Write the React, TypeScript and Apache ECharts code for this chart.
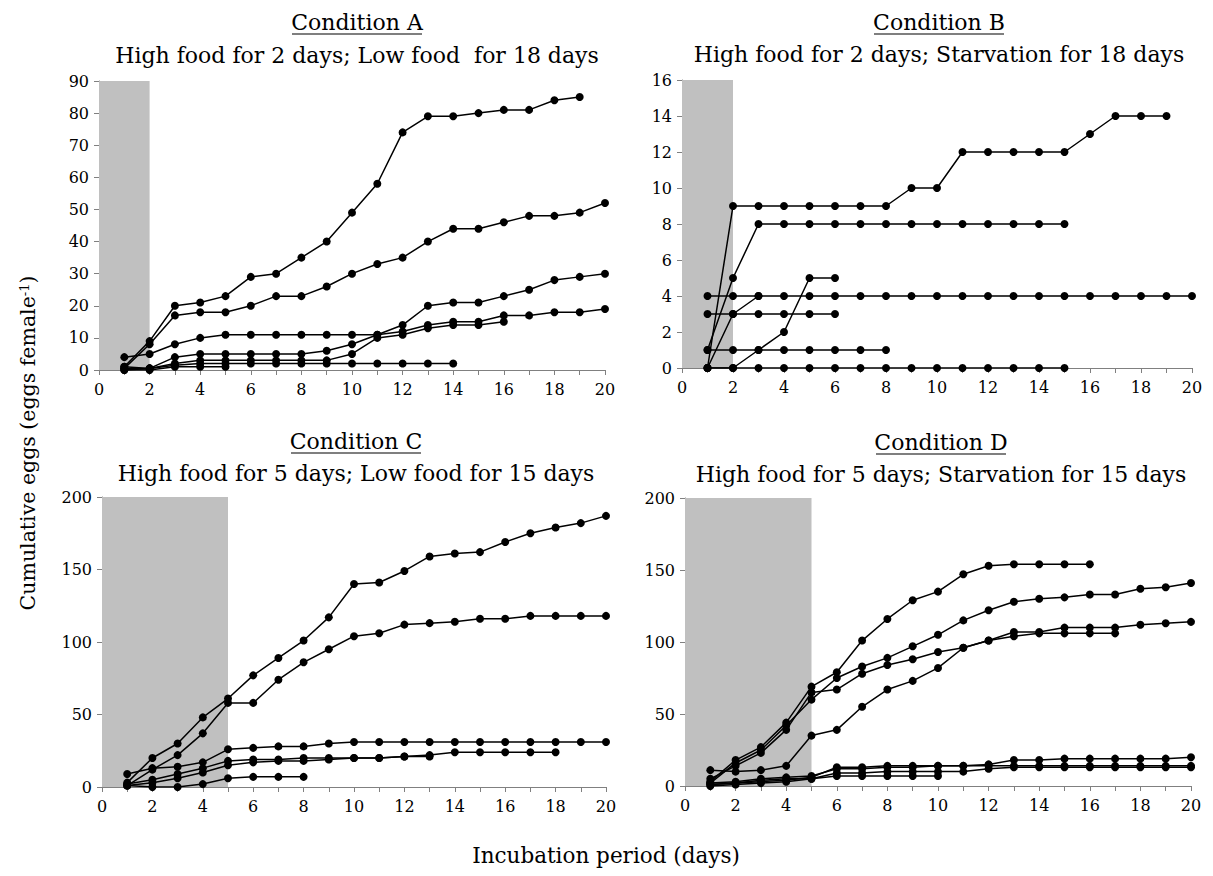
import React, { useEffect, useRef } from "react";
import * as echarts from "echarts";

const DAYS = [1, 2, 3, 4, 5, 6, 7, 8, 9, 10, 11, 12, 13, 14, 15, 16, 17, 18, 19, 20];
const X_TICK_LABELS = ["0", "2", "4", "6", "8", "10", "12", "14", "16", "18", "20"];

// Condition A (high food 2 d; low food 18 d)
const condA1 = [1, 9, 20, 21, 23, 29, 30, 35, 40, 49, 58, 74, 79, 79, 80, 81, 81, 84, 85];
const condA2 = [0.5, 8, 17, 18, 18, 20, 23, 23, 26, 30, 33, 35, 40, 44, 44, 46, 48, 48, 49, 52];
const condA3 = [4, 5, 8, 10, 11, 11, 11, 11, 11, 11, 11, 14, 20, 21, 21, 23, 25, 28, 29, 30];
const condA4 = [0.5, 0.5, 4, 5, 5, 5, 5, 5, 6, 8, 11, 12, 14, 15, 15, 17, 17, 18, 18, 19];
const condA5 = [1, 0.5, 2, 3, 3, 3, 3, 3, 3, 5, 10, 11, 13, 14, 14, 15];
const condA6 = [0, 0.5, 1.5, 2, 2, 2, 2, 2, 2, 2, 2, 2, 2, 2];
const condA7 = [0, 0, 1, 1, 1];

// Condition B (high food 2 d; starvation 18 d)
const condB1 = [0, 9, 9, 9, 9, 9, 9, 9, 10, 10, 12, 12, 12, 12, 12, 13, 14, 14, 14];
const condB2 = [1, 5, 8, 8, 8, 8, 8, 8, 8, 8, 8, 8, 8, 8, 8];
const condB3 = [4, 4, 4, 4, 4, 4, 4, 4, 4, 4, 4, 4, 4, 4, 4, 4, 4, 4, 4, 4];
const condB4 = [3, 3, 3, 3, 3, 3];
const condB5 = [1, 1, 1, 1, 1, 1, 1, 1];
const condB6 = [0, 0, 0, 0, 0, 0, 0, 0, 0, 0, 0, 0, 0, 0, 0];
const condB7 = [0, 0, 1, 2, 5, 5];
const condB8 = [0, 3, 4];

// Condition C (high food 5 d; low food 15 d)
const condC1 = [3, 20, 30, 48, 61, 77, 89, 101, 117, 140, 141, 149, 159, 161, 162, 169, 175, 179, 182, 187];
const condC2 = [1, 12, 22, 37, 58, 58, 74, 86, 95, 104, 106, 112, 113, 114, 116, 116, 118, 118, 118, 118];
const condC3 = [9, 13, 14, 17, 26, 27, 28, 28, 30, 31, 31, 31, 31, 31, 31, 31, 31, 31, 31, 31];
const condC4 = [2, 5, 9, 13, 18, 19, 19, 20, 20, 20, 20, 21, 22, 24, 24, 24, 24, 24];
const condC5 = [1, 3, 6, 10, 15, 17, 18, 18, 19, 20, 20, 21, 21];
const condC6 = [1, 0, 0, 2, 6, 7, 7, 7];

// Condition D (high food 5 d; starvation 15 d)
const condD1 = [3, 18, 27, 44, 69, 79, 101, 116, 129, 135, 147, 153, 154, 154, 154, 154];
const condD2 = [2, 16, 25, 42, 60, 75, 83, 89, 97, 105, 115, 122, 128, 130, 131, 133, 133, 137, 138, 141];
const condD3 = [5, 14, 23, 39, 65, 67, 78, 84, 88, 93, 96, 101, 104, 106, 106, 106, 106];
const condD4 = [11, 10, 11, 14, 35, 39, 55, 67, 73, 82, 96, 101, 107, 107, 110, 110, 110, 112, 113, 114];
const condD5 = [1, 2, 3, 4, 6, 13, 13, 14, 14, 14, 14, 15, 18, 18, 19, 19, 19, 19, 19, 20];
const condD6 = [2, 3, 5, 6, 7, 12, 12, 13, 13, 14, 14, 14, 14, 14, 14, 14, 14, 14, 14, 14];
const condD7 = [0, 1, 2, 3, 5, 9, 9, 10, 10, 10, 10, 12, 13, 13, 13, 13, 13, 13, 13, 13];
const condD8 = [1, 2, 4, 5, 5, 7, 7, 7, 7, 7];

const PANELS = [
  { name: "Condition A", sub: "High food for 2 days; Low food  for 18 days", series: [condA1, condA2, condA3, condA4, condA5, condA6, condA7], yMax: 90, yStep: 10, shadeEnd: 2 },
  { name: "Condition B", sub: "High food for 2 days; Starvation for 18 days", series: [condB1, condB2, condB3, condB4, condB5, condB6, condB7, condB8], yMax: 16, yStep: 2, shadeEnd: 2 },
  { name: "Condition C", sub: "High food for 5 days; Low food for 15 days", series: [condC1, condC2, condC3, condC4, condC5, condC6], yMax: 200, yStep: 50, shadeEnd: 5 },
  { name: "Condition D", sub: "High food for 5 days; Starvation for 15 days", series: [condD1, condD2, condD3, condD4, condD5, condD6, condD7, condD8], yMax: 200, yStep: 50, shadeEnd: 5 },
];

const GRIDS = [
  { left: 99, top: 81, width: 506, height: 289 },
  { left: 682, top: 80, width: 510, height: 288 },
  { left: 102, top: 497, width: 504, height: 290 },
  { left: 685, top: 498, width: 506, height: 288 },
];
const TITLE_POS = [
  { cx: 357, ty: 22, sy: 55 },
  { cx: 939, ty: 22, sy: 54 },
  { cx: 356, ty: 441, sy: 473 },
  { cx: 941, ty: 442, sy: 474 },
];

const FONT = "DejaVu Serif";
const AXIS_COLOR = "#808080";

export default function App() {
  const ref = useRef<HTMLDivElement>(null);

  useEffect(() => {
    document.body.style.margin = "0";
    if (!ref.current) return;
    const chart = echarts.init(ref.current, undefined, { renderer: "svg" });

    const grid = GRIDS.map((g) => ({ ...g, containLabel: false }));
    const xAxis = PANELS.map((_, i) => ({
      type: "value",
      gridIndex: i,
      min: 0,
      max: 20,
      interval: 1,
      axisLine: { show: true, onZero: false, lineStyle: { color: AXIS_COLOR, width: 1 } },
      axisTick: { show: true, inside: false, length: 5, lineStyle: { color: AXIS_COLOR } },
      axisLabel: {
        color: "#000",
        fontSize: 16,
        fontFamily: FONT,
        margin: 11,
        formatter: (v: number) => (X_TICK_LABELS.indexOf(String(v)) >= 0 ? String(v) : ""),
      },
      splitLine: { show: false },
    }));
    const yAxis = PANELS.map((p, i) => ({
      type: "value",
      gridIndex: i,
      min: 0,
      max: p.yMax,
      interval: p.yStep,
      axisLine: { show: true, onZero: false, lineStyle: { color: AXIS_COLOR, width: 1 } },
      axisTick: { show: true, inside: false, length: 5, lineStyle: { color: AXIS_COLOR } },
      axisLabel: { color: "#000", fontSize: 16, fontFamily: FONT, margin: 10 },
      splitLine: { show: false },
    }));

    const series: any[] = [];
    PANELS.forEach((p, i) => {
      series.push({
        type: "line",
        xAxisIndex: i,
        yAxisIndex: i,
        data: [],
        z: 1,
        silent: true,
        markArea: {
          silent: true,
          itemStyle: { color: "#c0c0c0" },
          data: [[{ xAxis: 0 }, { xAxis: p.shadeEnd }]],
        },
      });
      p.series.forEach((vals) => {
        series.push({
          type: "line",
          xAxisIndex: i,
          yAxisIndex: i,
          data: vals.map((v, k) => [DAYS[k], v]),
          symbol: "circle",
          symbolSize: 8,
          showSymbol: true,
          itemStyle: { color: "#000" },
          lineStyle: { color: "#000", width: 1.5 },
          z: 3,
        });
      });
    });

    const graphic: any[] = [];
    PANELS.forEach((p, i) => {
      const t = TITLE_POS[i];
      graphic.push({
        type: "text",
        x: t.cx,
        y: t.ty,
        style: { text: p.name, fontSize: 22, fontFamily: FONT, fill: "#000", align: "center", verticalAlign: "middle" },
      });
      graphic.push({
        type: "line",
        shape: { x1: t.cx - 65, y1: t.ty + 12, x2: t.cx + 65, y2: t.ty + 12 },
        style: { stroke: "#000", lineWidth: 1.2 },
      });
      graphic.push({
        type: "text",
        x: t.cx,
        y: t.sy,
        style: { text: p.sub, fontSize: 22, fontFamily: FONT, fill: "#000", align: "center", verticalAlign: "middle" },
      });
    });
    graphic.push({
      type: "text",
      x: 606,
      y: 855,
      style: { text: "Incubation period (days)", fontSize: 21.5, fontFamily: FONT, fill: "#000", align: "center", verticalAlign: "middle" },
    });
    graphic.push({
      type: "text",
      x: 28,
      y: 443,
      rotation: Math.PI / 2,
      style: {
        text: "{a|Cumulative eggs (eggs female}{s|-1}{a|)}",
        align: "center",
        verticalAlign: "middle",
        rich: {
          a: { fontSize: 20.5, fontFamily: FONT, fill: "#000", verticalAlign: "bottom" },
          s: { fontSize: 13, fontFamily: FONT, fill: "#000", verticalAlign: "top" },
        },
      },
    });

    chart.setOption({
      animation: false,
      backgroundColor: "#fff",
      grid,
      xAxis,
      yAxis,
      series,
      graphic,
    });
    return () => chart.dispose();
  }, []);

  return <div ref={ref} style={{ width: 1213, height: 876 }} />;
}
